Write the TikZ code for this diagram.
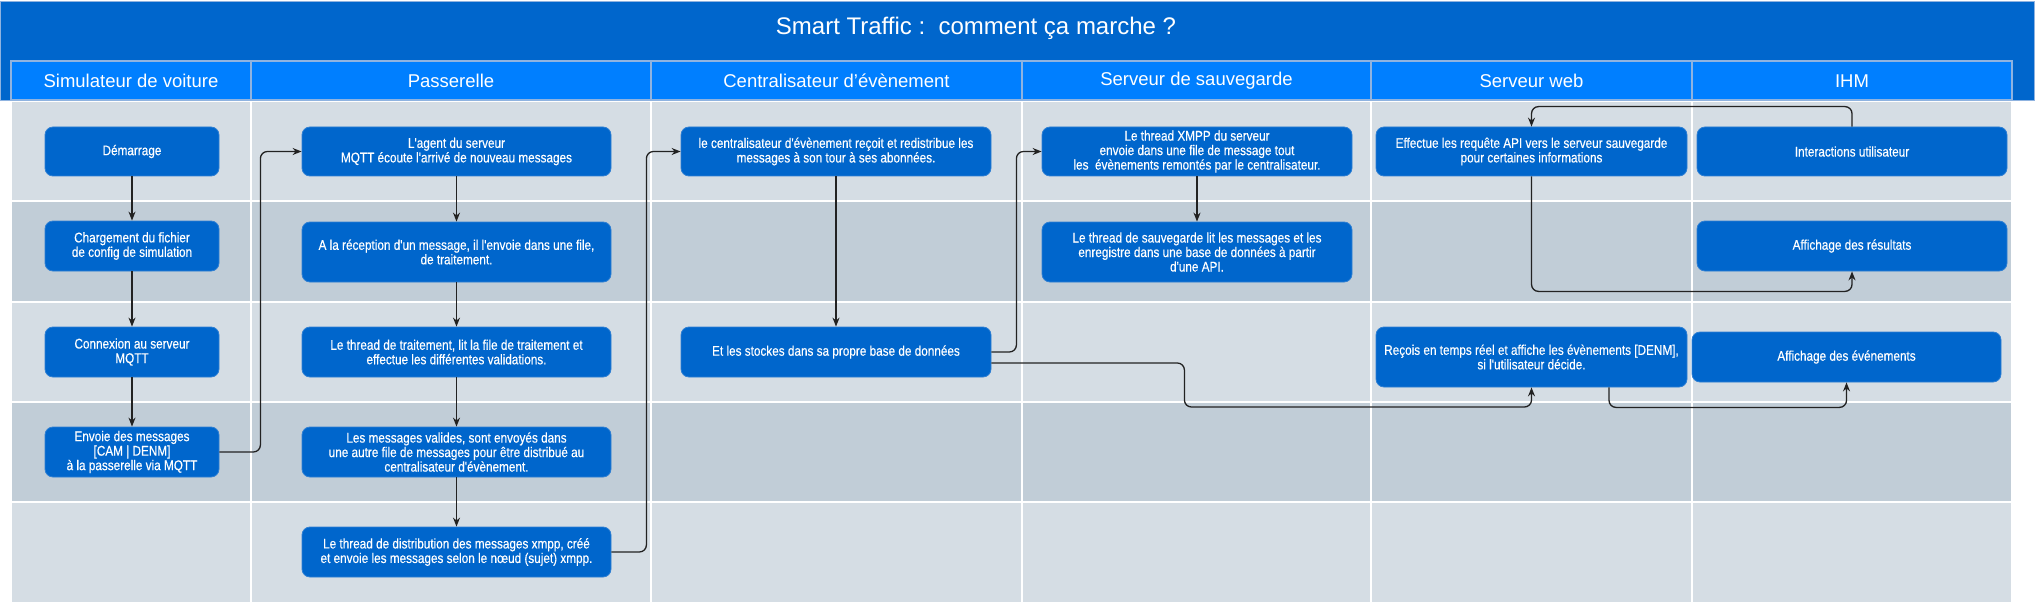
\documentclass[tikz,border=0pt]{standalone}
\usepackage{fontspec}
\setmainfont{Liberation Sans}
\newfontfamily\narrowfont[FakeStretch=0.84,FakeBold=0.35]{Liberation Sans}
\usetikzlibrary{arrows.meta}
\definecolor{titleblue}{HTML}{0066CC}
\definecolor{headblue}{HTML}{007FFF}
\definecolor{headline}{HTML}{8FB3E0}
\definecolor{lightrow}{HTML}{D5DDE4}
\definecolor{darkrow}{HTML}{C1CDD7}
\definecolor{boxblue}{HTML}{0066CC}
\definecolor{boxline}{HTML}{2F7FD3}
\definecolor{connline}{HTML}{222222}
\tikzset{
  box/.style={rounded corners=8pt, fill=boxblue, draw=boxline, line width=0.8pt, text=white, align=center,
    font=\narrowfont\fontsize{14}{14.5}\selectfont, inner sep=0pt},
  conn/.style={draw=connline, line width=1.3pt, rounded corners=7pt, -{Stealth[length=9pt,width=7pt]}},
  headtxt/.style={text=white, font=\fontsize{18.5}{22}\selectfont},
  cell/.style={draw=white, line width=2pt}
}
\begin{document}
\begin{tikzpicture}[x=1pt,y=-1pt]
\useasboundingbox (0,0) rectangle (2036,604);
% title bar
\fill[titleblue] (0,1) rectangle (2035,101);
\draw[headline, line width=0.8pt] (0.5,1.5) rectangle (2034.5,100.5);
\node[text=white, font=\fontsize{24}{28}\selectfont] (title) at (976,28) {Smart Traffic :\ \ comment ça marche ?};
% grid
\foreach \xa/\xb [count=\c] in {11/251,251/651,651/1022,1022/1371,1371/1692,1692/2012}{
  \foreach \ya/\yb/\col in {101/201/lightrow,201/302/darkrow,302/402/lightrow,402/502/darkrow,502/603/lightrow}{
    \filldraw[cell, fill=\col] (\xa,\ya) rectangle (\xb,\yb);
  }
  \filldraw[fill=headblue, draw=headline, line width=1.5pt] (\xa,61) rectangle (\xb,100);
}
\node[headtxt] (h1) at (131,81) {Simulateur de voiture};
\node[headtxt] (h2) at (451,81) {Passerelle};
\node[headtxt] (h3) at (836.5,81) {Centralisateur d'évènement};
\node[headtxt] (h4) at (1196.5,81) {Serveur de sauvegarde};
\node[headtxt] (h5) at (1531.5,81) {Serveur web};
\node[headtxt] (h6) at (1852,81) {IHM};
% boxes
\node[box, minimum width=174pt, minimum height=49pt] (d1) at (132,151.5) {Démarrage};
\node[box, minimum width=174pt, minimum height=50pt] (d2) at (132,246) {Chargement du fichier\\de config de simulation};
\node[box, minimum width=174pt, minimum height=50pt] (d3) at (132,352) {Connexion au serveur\\MQTT};
\node[box, minimum width=174pt, minimum height=50pt] (d4) at (132,452) {Envoie des messages\\{}[CAM | DENM]\\à la passerelle via MQTT};
\node[box, minimum width=309pt, minimum height=49pt] (p1) at (456.5,151.5) {L'agent du serveur\\MQTT écoute l'arrivé de nouveau messages};
\node[box, minimum width=309pt, minimum height=60pt] (p2) at (456.5,252) {A la réception d'un message, il l'envoie dans une file,\\de traitement.};
\node[box, minimum width=309pt, minimum height=50pt] (p3) at (456.5,352) {Le thread de traitement, lit la file de traitement et\\effectue les différentes validations.};
\node[box, minimum width=309pt, minimum height=50pt] (p4) at (456.5,452) {Les messages valides, sont envoyés dans\\une autre file de messages pour être distribué au\\centralisateur d'évènement.};
\node[box, minimum width=309pt, minimum height=50pt] (p5) at (456.5,552) {Le thread de distribution des messages xmpp, créé\\et envoie les messages selon le nœud (sujet) xmpp.};
\node[box, minimum width=310pt, minimum height=49pt] (c1) at (836,151.5) {le centralisateur d'évènement reçoit et redistribue les\\messages à son tour à ses abonnées.};
\node[box, minimum width=310pt, minimum height=50pt] (c2) at (836,352) {Et les stockes dans sa propre base de données};
\node[box, minimum width=310pt, minimum height=49pt] (s1) at (1197,151.5) {Le thread XMPP du serveur\\envoie dans une file de message tout\\les\ \ évènements remontés par le centralisateur.};
\node[box, minimum width=310pt, minimum height=60pt] (s2) at (1197,252) {Le thread de sauvegarde lit les messages et les\\enregistre dans une base de données à partir\\d'une API.};
\node[box, minimum width=311pt, minimum height=49pt] (w1) at (1531.5,151.5) {Effectue les requête API vers le serveur sauvegarde\\pour certaines informations};
\node[box, minimum width=311pt, minimum height=60pt] (w2) at (1531.5,357) {Reçois en temps réel et affiche les évènements [DENM],\\si l'utilisateur décide.};
\node[box, minimum width=310pt, minimum height=49pt] (i1) at (1852,151.5) {Interactions utilisateur};
\node[box, minimum width=310pt, minimum height=50pt] (i2) at (1852,246) {Affichage des résultats};
\node[box, minimum width=309pt, minimum height=50pt] (i3) at (1846.5,357) {Affichage des événements};
% connectors
\draw[conn] (d1) -- (d2);
\draw[conn] (d2) -- (d3);
\draw[conn] (d3) -- (d4);
\draw[conn] (d4.east) -- ++(41,0) |- (p1.west);
\draw[conn] (p1) -- (p2);
\draw[conn] (p2) -- (p3);
\draw[conn] (p3) -- (p4);
\draw[conn] (p4) -- (p5);
\draw[conn] (p5.east) -- ++(35,0) |- (c1.west);
\draw[conn] (c1) -- (c2);
\draw[conn] (c2.east) -- ++(25,0) |- (s1.west);
\draw[conn] (s1) -- (s2);
\draw[conn] ([yshift=-11pt]c2.east) -- ++(193,0) -- ++(0,44) -| (w2.south);
\draw[conn] (i1.north) -- ++(0,-20) -| (w1.north);
\draw[conn] (w1.south) -- ++(0,115) -| (i2.south);
\draw[conn] ([xshift=77.5pt]w2.south) -- ++(0,20) -| (i3.south);
\end{tikzpicture}
\end{document}
